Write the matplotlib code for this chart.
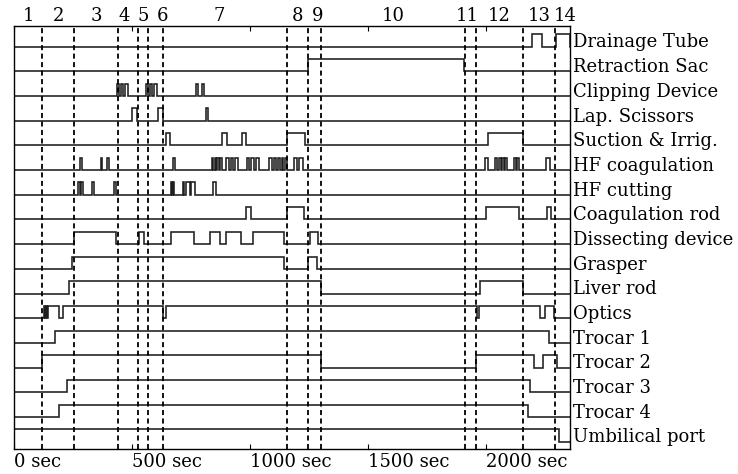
import matplotlib.pyplot as plt
import matplotlib.transforms as mtransforms

plt.rcParams['font.family'] = ['DejaVu Serif']

T_END = 2356  # seconds shown on the time axis

# phase boundaries (sec) and phase numbers written above the chart
phase_bounds = [119, 254, 441, 525, 568, 631, 1157, 1246, 1301, 1911, 1958, 2157, 2292]
phase_names = [str(i) for i in range(1, 15)]

signal_names = ['Drainage Tube', 'Retraction Sac', 'Clipping Device', 'Lap. Scissors',
                'Suction & Irrig.', 'HF coagulation', 'HF cutting', 'Coagulation rod',
                'Dissecting device', 'Grasper', 'Liver rod', 'Optics', 'Trocar 1',
                'Trocar 2', 'Trocar 3', 'Trocar 4', 'Umbilical port']

# (start, end) of every "in use" interval, seconds
drainage_tube = [(2195, 2237), (2296, 2356)]
retraction_sac = [(1247, 1908)]
clipping_device = [(437, 445), (454, 462), (471, 481), (558, 566), (575, 583),
                   (592, 604), (770, 778), (795, 806)]
lap_scissors = [(499, 522), (611, 630), (814, 822)]
suction_irrig = [(644, 661), (883, 901), (967, 984), (1157, 1233), (2010, 2155)]
hf_coagulation = [(280, 287), (367, 373), (393, 401), (674, 682), (838, 844), (850, 856),
                  (862, 867), (874, 881), (900, 910), (918, 928), (936, 950), (986, 997),
                  (1005, 1016), (1024, 1037), (1082, 1092), (1100, 1111), (1119, 1128),
                  (1134, 1141), (1150, 1157), (1188, 1198), (1206, 1223), (1996, 2010),
                  (2038, 2048), (2055, 2063), (2068, 2076), (2080, 2088), (2118, 2126),
                  (2130, 2138), (2254, 2271)]
hf_cutting = [(272, 279), (285, 294), (332, 340), (422, 431), (665, 669), (675, 679),
              (715, 721), (727, 747), (751, 767), (845, 857)]
coagulation_rod = [(983, 1003), (1158, 1229), (1999, 2140), (2260, 2275)]
dissecting_device = [(254, 432), (530, 551), (665, 764), (831, 873), (898, 961),
                     (1014, 1146), (1254, 1287)]
grasper = [(246, 1144), (1244, 1283)]
liver_rod = [(232, 1301), (1976, 2158)]
optics = [(128, 133), (137, 141), (144, 191), (209, 631), (643, 1960), (1971, 2229),
          (2250, 2289)]
trocar_1 = [(174, 2268)]
trocar_2 = [(120, 1301), (1959, 2205), (2243, 2300)]
trocar_3 = [(223, 2186)]
trocar_4 = [(191, 2179)]
umbilical_port = [(0, 2309)]

signals = [drainage_tube, retraction_sac, clipping_device, lap_scissors, suction_irrig,
           hf_coagulation, hf_cutting, coagulation_rod, dissecting_device, grasper,
           liver_rod, optics, trocar_1, trocar_2, trocar_3, trocar_4, umbilical_port]

fig = plt.figure(figsize=(7.38, 4.74), dpi=100)
ax = fig.add_axes([14 / 738, 25 / 474, 556 / 738, 423 / 474])

n = len(signals)
label_tf = mtransforms.blended_transform_factory(ax.transAxes, ax.transData)
for i, (name, spans) in enumerate(zip(signal_names, signals)):
    base = n - 1 - i
    xs, ys = [0], [0]
    for a, b in spans:
        xs += [a, a, b, b]
        ys += [0, 1, 1, 0]
    xs.append(T_END)
    ys.append(0)
    ax.plot(xs, [base + 0.5 * v for v in ys], color='#1e1e1e', lw=1.15,
            solid_joinstyle='miter')
    ax.text(1.005, base - 0.03, name, transform=label_tf, ha='left', va='baseline',
            fontsize=13)

for b in phase_bounds:
    ax.axvline(b, color='black', lw=1.3, linestyle=(0, (2.8, 1.9)))

# phase numbers, centred in each phase (a few nudged as in the original)
edges = [0] + phase_bounds + [T_END]
nudge = {3: -17, 5: 31, 6: -25, 8: 15, 10: -15, 13: 11}
for k, name in enumerate(phase_names):
    mid = (edges[k] + edges[k + 1]) / 2 + nudge.get(k, 0)
    ax.annotate(name, xy=(mid, 1), xycoords=('data', 'axes fraction'),
                xytext=(0, 3.5), textcoords='offset points', ha='center',
                va='baseline', fontsize=13)

ax.set_xlim(0, T_END)
ax.set_ylim(-0.3, n - 1 + 0.84)
ax.set_yticks([])
ticks = [0, 500, 1000, 1500, 2000]
ax.set_xticks(ticks)
ax.set_xticklabels([f'{t} sec' for t in ticks], ha='left', fontsize=13)
ax.tick_params(axis='x', direction='in', top=True, length=3.5, width=0.8, pad=3)
for s in ax.spines.values():
    s.set_linewidth(1.0)

fig.savefig('out.png', dpi=100)
